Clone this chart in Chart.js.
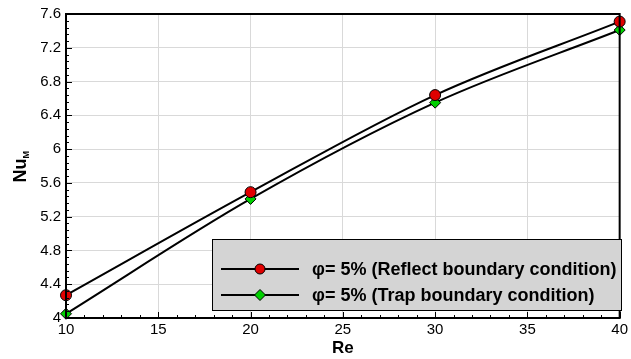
<!DOCTYPE html>
<html>
<head>
<meta charset="utf-8">
<script src="https://cdn.jsdelivr.net/npm/chart.js@4"></script>
<style>
  body { margin: 0; background: #fff; }
  #wrap { width: 631px; height: 359px; }
</style>
</head>
<body>
<div id="wrap"><canvas id="grafico" width="631" height="359"></canvas></div>
<script>
// datos
const reValues = [10, 20, 30, 40];
const nuReflect = [4.27, 5.49, 6.64, 7.51];
const nuTrap = [4.05, 5.41, 6.55, 7.41];
const seriesLabels = ['\u03C6= 5% (Reflect boundary condition)', '\u03C6= 5% (Trap boundary condition)'];
const xTicks = [10, 15, 20, 25, 30, 35, 40];
const yTicks = [4, 4.4, 4.8, 5.2, 5.6, 6, 6.4, 6.8, 7.2, 7.6];

const FONT = '"Liberation Sans", Arial, sans-serif';

// marcas menores hacia dentro, marco, titulo Y y leyenda tipo tecplot
const extras = {
    id: 'extras',
    afterDraw(chart) {
        const ctx = chart.ctx;
        const a = chart.chartArea;
        const xs = chart.scales.x, ys = chart.scales.y;
        ctx.save();
        ctx.strokeStyle = '#000';
        ctx.lineWidth = 1;
        ctx.beginPath();
        for (let v = 10; v <= 40; v += 1) {
            const px = Math.round(xs.getPixelForValue(v)) + 0.5;
            const len = (v % 5 === 0) ? 6 : 3;
            ctx.moveTo(px, a.bottom); ctx.lineTo(px, a.bottom - len);
        }
        for (let i = 0; i <= 45; i++) {
            const v = 4 + i * 0.08;
            const py = Math.round(ys.getPixelForValue(v)) + 0.5;
            const len = (i % 5 === 0) ? 6 : 3;
            ctx.moveTo(a.left, py); ctx.lineTo(a.left + len, py);
        }
        ctx.stroke();
        // marco
        ctx.lineWidth = 2;
        ctx.strokeRect(a.left, a.top, a.right - a.left, a.bottom - a.top);

        // titulo eje Y: Nu_M
        ctx.translate(26, 166);
        ctx.rotate(-Math.PI / 2);
        ctx.fillStyle = '#000';
        ctx.font = 'bold 18px ' + FONT;
        ctx.textBaseline = 'alphabetic';
        ctx.textAlign = 'left';
        const w = ctx.measureText('Nu').width;
        const total = w + 9;
        ctx.fillText('Nu', -total / 2, 0);
        ctx.font = 'bold 9px ' + FONT;
        ctx.fillText('M', -total / 2 + w, 3);
        ctx.restore();

        // leyenda
        ctx.save();
        const bx = 212.5, by = 239.5, bw = 409, bh = 71;
        ctx.fillStyle = '#d4d4d4';
        ctx.fillRect(bx, by, bw, bh);
        ctx.strokeStyle = '#000';
        ctx.lineWidth = 1;
        ctx.strokeRect(bx, by, bw, bh);
        const rows = [269, 295];
        const ds = chart.data.datasets;
        rows.forEach((ry, i) => {
            ctx.strokeStyle = '#000';
            ctx.lineWidth = 2;
            ctx.beginPath();
            ctx.moveTo(221, ry); ctx.lineTo(299, ry);
            ctx.stroke();
            ctx.fillStyle = ds[i].pointBackgroundColor;
            ctx.lineWidth = 1;
            ctx.beginPath();
            if (i === 0) {
                ctx.arc(260, ry, 5, 0, Math.PI * 2);
            } else {
                ctx.moveTo(260, ry - 5.5); ctx.lineTo(265.5, ry);
                ctx.lineTo(260, ry + 5.5); ctx.lineTo(254.5, ry);
                ctx.closePath();
            }
            ctx.fill(); ctx.stroke();
            ctx.fillStyle = '#000';
            ctx.font = 'bold 18px ' + FONT;
            ctx.textBaseline = 'middle';
            ctx.fillText(seriesLabels[i], 312, ry + 1);
        });
        ctx.restore();
    }
};

new Chart(document.getElementById('grafico'), {
    type: 'line',
    data: {
        datasets: [{
            label: seriesLabels[0],
            data: reValues.map((x, i) => ({ x: x, y: nuReflect[i] })),
            borderColor: '#000',
            borderWidth: 2,
            pointStyle: 'circle',
            pointRadius: 5.5,
            pointBackgroundColor: '#e00000',
            pointBorderColor: '#000',
            pointBorderWidth: 1,
            cubicInterpolationMode: 'monotone'
        }, {
            label: seriesLabels[1],
            data: reValues.map((x, i) => ({ x: x, y: nuTrap[i] })),
            borderColor: '#000',
            borderWidth: 2,
            pointStyle: 'rectRot',
            pointRadius: 5.5,
            pointBackgroundColor: '#00d000',
            pointBorderColor: '#000',
            pointBorderWidth: 1,
            cubicInterpolationMode: 'monotone'
        }]
    },
    options: {
        responsive: false,
        animation: false,
        clip: false,
        layout: { padding: { top: 13, right: 6, left: 0, bottom: 0 } },
        plugins: { legend: { display: false }, tooltip: { enabled: false } },
        scales: {
            x: {
                type: 'linear',
                min: 10, max: 40,
                afterBuildTicks: (s) => { s.ticks = xTicks.map(v => ({ value: v })); },
                afterFit: (s) => { s.height = 41; },
                grid: { color: '#d9d9d9', lineWidth: 1, drawTicks: false },
                border: { display: false },
                ticks: { color: '#000', padding: 3, maxRotation: 0, font: { family: FONT, size: 15 } },
                title: { display: true, text: 'Re', color: '#000', padding: { top: 0, bottom: 0 }, font: { family: FONT, size: 17, weight: 'bold' } }
            },
            y: {
                min: 4, max: 7.6,
                afterBuildTicks: (s) => { s.ticks = yTicks.map(v => ({ value: v })); },
                afterFit: (s) => { s.width = 66; },
                grid: { color: '#d9d9d9', lineWidth: 1, drawTicks: false },
                border: { display: false },
                ticks: { color: '#000', padding: 5, font: { family: FONT, size: 15 }, callback: (v) => String(+v.toFixed(1)) }
            }
        }
    },
    plugins: [extras]
});
</script>
</body>
</html>
